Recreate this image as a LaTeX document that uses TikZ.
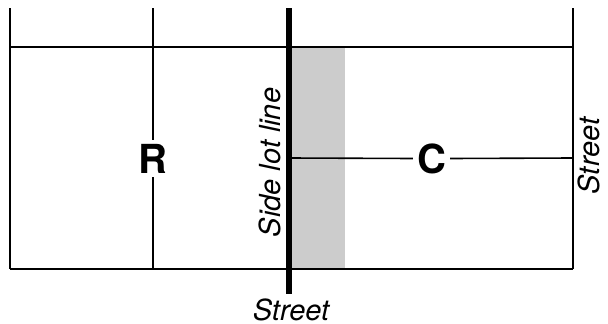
\documentclass[tikz,border=0pt]{standalone}
\usepackage{fontspec}
\setmainfont{TeX Gyre Heros}
\begin{document}
\begin{tikzpicture}[x=1pt,y=-1pt,
  thinline/.style={line width=1.6pt,line cap=butt},
  thickline/.style={line width=5.5pt},
  zonelabel/.style={font=\fontsize{40}{40}\selectfont\bfseries,inner sep=4pt},
  streetlabel/.style={font=\fontsize{29}{29}\selectfont\itshape,inner sep=0pt},
  setback/.style={fill=black!20}]
\useasboundingbox (0,0) rectangle (608,324);
% coordinates
\coordinate (lt) at (10,8);
\coordinate (lb) at (10,269);
\coordinate (tl) at (10,47);
\coordinate (tr) at (573,47);
\coordinate (bl) at (10,269);
\coordinate (br) at (573,269);
\coordinate (rt) at (573,8);
\coordinate (rb) at (573,269);
\coordinate (mt) at (153,8);
\coordinate (mb) at (153,269);
\coordinate (st) at (289,8);
\coordinate (sb) at (289,294);
\coordinate (cl) at (289,158);
\coordinate (cr) at (573,158);
\coordinate (g1) at (289,47);
\coordinate (g2) at (345,269);
% setback strip
\fill[setback] (g1) rectangle (g2);
% labels
\node[zonelabel] (R) at (153,158.5) {R};
\node[zonelabel] (C) at (431.5,158.5) {C};
\node[streetlabel,rotate=90] (side) at (270,162.5) {Side lot line};
\node[streetlabel,rotate=90] (streetR) at (589,156) {Street};
\node[streetlabel] (streetB) at (291,309.5) {Street};
% lines
\draw[thinline] (lt) -- (lb);
\draw[thinline] (rt) -- (rb);
\draw[thinline] (tl) -- (tr);
\draw[thinline] (bl) -- (br);
\draw[thinline] (mt) -- (R.north);
\draw[thinline] (R.south) -- (mb);
\draw[thinline] (cl) -- (C.west);
\draw[thinline] (C.east) -- (cr);
\draw[thickline] (st) -- (sb);
\end{tikzpicture}
\end{document}
